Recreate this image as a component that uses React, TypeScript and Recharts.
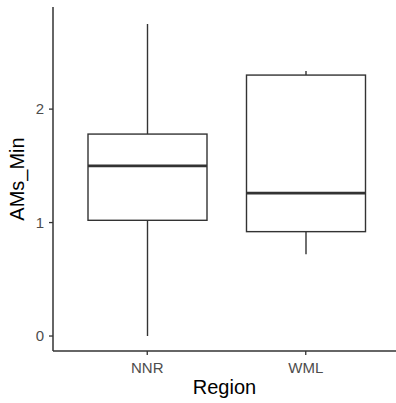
import React from 'react';
import { ComposedChart, Bar, XAxis, YAxis } from 'recharts';

const regions = ['NNR', 'WML'];
const mins = [0.0, 0.72];
const q1s = [1.02, 0.92];
const medians = [1.5, 1.26];
const q3s = [1.78, 2.3];
const maxs = [2.75, 2.335];
const yTicks = [0, 1, 2];

const data = regions.map((r, i) => ({
  region: r,
  range: [mins[i], maxs[i]],
  min: mins[i],
  q1: q1s[i],
  median: medians[i],
  q3: q3s[i],
  max: maxs[i],
}));

const BoxShape = (props: any) => {
  const { x, y, width, height, payload } = props;
  const { min, q1, median, q3, max } = payload;
  const per = height / (max - min);
  const py = (v: number) => y + (max - v) * per;
  const cx = x + width / 2;
  const c = '#333333';
  return (
    <g>
      <line x1={cx} x2={cx} y1={py(max)} y2={py(q3)} stroke={c} strokeWidth={1.4} />
      <line x1={cx} x2={cx} y1={py(q1)} y2={py(min)} stroke={c} strokeWidth={1.4} />
      <rect x={x} y={py(q3)} width={width} height={py(q1) - py(q3)} fill="#ffffff" stroke={c} strokeWidth={1.4} />
      <line x1={x} x2={x + width} y1={py(median)} y2={py(median)} stroke={c} strokeWidth={2.8} />
    </g>
  );
};

const YLabel = (props: any) => {
  const vb = props.viewBox;
  const cy = vb.y + vb.height / 2;
  const lx = 24;
  return (
    <text x={lx} y={cy} transform={`rotate(-90, ${lx}, ${cy})`} textAnchor="middle" fontSize={20} fill="#000000" fontFamily="Liberation Sans, Arial, sans-serif">
      AMs_Min
    </text>
  );
};

const XLabel = (props: any) => {
  const vb = props.viewBox;
  const cx = vb.x + vb.width / 2;
  return (
    <text x={cx} y={394} textAnchor="middle" fontSize={20} fill="#000000" fontFamily="Liberation Sans, Arial, sans-serif">
      Region
    </text>
  );
};

export default function App() {
  return (
    <div style={{ position: 'absolute', left: 0, top: 0, background: '#fff' }}>
      <ComposedChart width={396} height={403} data={data} margin={{ top: 7, right: 0, bottom: 0, left: 0 }}>
        <XAxis
          dataKey="region"
          height={52}
          padding={{ left: 15, right: 11 }}
          axisLine={{ stroke: '#333333', strokeWidth: 1.5 }}
          tickLine={{ stroke: '#333333', strokeWidth: 1.3 }}
          tickSize={4}
          tickMargin={7}
          tick={{ fontSize: 15, fill: '#4D4D4D', fontFamily: 'Liberation Sans, Arial, sans-serif' }}
          label={<XLabel />}
        />
        <YAxis
          type="number"
          domain={[-0.132, 2.9]}
          ticks={yTicks}
          allowDataOverflow
          width={53}
          axisLine={{ stroke: '#333333', strokeWidth: 1.5 }}
          tickLine={{ stroke: '#333333', strokeWidth: 1.3 }}
          tickSize={4}
          tickMargin={5}
          tick={{ fontSize: 15, fill: '#4D4D4D', fontFamily: 'Liberation Sans, Arial, sans-serif' }}
          label={<YLabel />}
        />
        <Bar dataKey="range" barSize={119} shape={<BoxShape />} isAnimationActive={false} />
      </ComposedChart>
    </div>
  );
}
